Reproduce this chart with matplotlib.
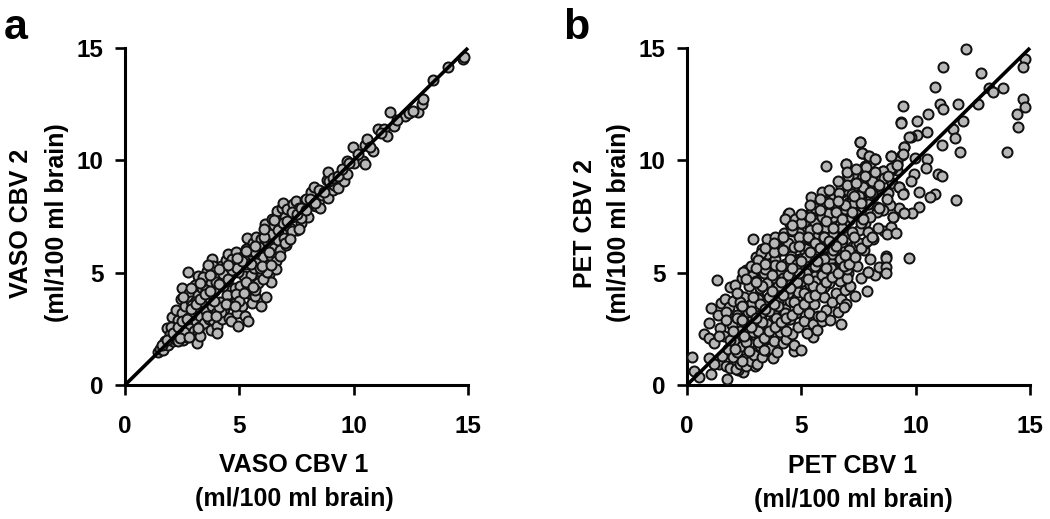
import matplotlib
matplotlib.use("Agg")
import matplotlib.pyplot as plt

plt.rcParams['font.family'] = ['Liberation Sans', 'DejaVu Sans']
plt.rcParams['font.weight'] = 'bold'

ticks = [0, 5, 10, 15]

# valores, painel a
vaso1 = [1.43,1.55,1.68,1.75,1.82,1.90,1.95,2.04,2.08,2.15,
         2.2,2.25,2.3,2.35,2.42,2.45,2.48,2.5,2.55,2.6,
         2.62,2.68,2.77,2.75,2.8,2.85,2.9,2.95,3.0,3.05,
         3.13,3.1,3.15,3.2,3.21,3.25,3.3,3.35,3.4,3.45,
         3.5,3.55,3.6,3.62,3.68,3.75,3.75,3.8,3.82,3.85,
         3.9,3.95,4.0,4.04,4.04,4.1,4.15,4.2,4.25,4.3,
         4.35,4.4,4.45,4.52,4.55,4.6,4.65,4.7,4.75,4.8,
         4.85,4.9,4.96,5.0,5.05,5.1,5.15,5.2,5.25,5.3,
         5.35,5.39,5.4,5.45,5.5,5.55,5.6,5.65,5.7,5.75,
         5.8,5.85,5.95,5.95,6.0,6.05,6.12,6.15,6.2,6.31,
         6.38,6.4,6.45,6.5,6.55,6.6,6.65,6.7,6.75,6.8,
         6.85,6.9,6.95,7.0,7.05,7.1,7.2,7.29,7.36,7.48,
         7.5,7.6,7.7,7.8,7.85,7.92,8.0,8.12,8.2,8.28,
         8.35,8.5,8.53,8.6,8.82,8.86,8.89,9.08,9.14,9.3,
         9.58,9.69,9.69,9.96,10.0,10.39,10.5,10.5,10.6,10.86,
         11.05,11.33,11.44,11.59,11.78,12.25,12.43,12.8,12.97,13.02,
         13.46,14.14,14.76,14.84,
         2.0,2.3,2.55,2.7,2.9,3.05,3.2,3.4,3.55,3.7,
         3.85,4.0,4.2,4.35,4.5,4.65,4.85,5.0,5.2,5.35,
         5.5,5.7,5.85,6.05,6.25,6.4,6.6,7.0,7.3,7.7,
         2.6,2.95,3.3,3.65,4.1,4.45,4.95,5.3,5.75,6.2,
         1.6,1.85,2.1,2.3,2.5,2.7,2.9,3.1,3.3,3.5,
         3.7,3.9,4.1,4.3,4.5,4.7,4.9,5.1,5.3,5.5,
         5.7,5.9,6.1,6.3,6.5,6.7,6.9,7.1,7.3,7.5,
         7.7,7.9,8.1,8.3,8.5,8.7,8.9,9.1,9.3,9.5,
         9.8,10.2,10.7,11.2,11.9,12.6,2.4,2.8,3.2,3.6,
         4.0,4.4,4.8,5.2,5.6,6.0,6.4,6.8,7.2,7.6,
         2.9,3.3,3.7,4.1,4.5,4.9,5.3,5.7,6.1,6.5]
vaso2 = [1.48,1.62,1.55,1.95,2.52,1.78,2.25,3.04,1.95,2.62,
         2.05,3.35,2.9,2.2,2.45,3.81,4.30,3.2,2.0,2.75,
         3.5,2.25,5.04,3.0,4.1,2.55,3.75,3.2,2.4,4.45,
         1.88,2.85,3.45,4.0,4.85,2.6,3.05,4.3,3.7,2.75,
         4.75,3.3,5.09,4.0,2.95,2.45,4.55,3.5,5.59,2.9,
         4.2,5.0,3.2,2.63,2.30,4.75,3.7,5.3,2.95,4.4,
         3.4,5.55,4.0,5.83,3.0,4.9,2.85,5.6,3.65,4.3,
         5.9,3.2,2.63,5.25,4.4,3.5,5.75,4.85,3.05,5.4,
         6.53,2.86,4.1,5.75,4.9,3.65,6.3,5.2,3.95,6.6,
         4.55,5.6,3.52,6.5,4.95,5.7,7.17,3.93,6.35,4.94,
         4.60,5.75,7.4,6.1,6.95,5.5,7.75,6.45,7.2,6.0,
         7.86,8.08,6.55,7.5,6.25,7.85,7.0,7.49,8.06,8.2,
         6.9,7.9,7.2,7.72,8.25,8.26,7.5,8.6,8.0,8.8,
         7.95,8.23,7.86,8.45,9.12,8.34,9.5,8.68,8.9,8.75,
         9.09,9.98,9.39,10.58,9.87,9.97,10.68,9.84,10.93,10.43,
         11.38,11.38,11.08,12.17,11.54,11.97,12.09,12.14,12.51,12.72,
         13.58,14.14,14.5,14.58,
         2.6,1.95,3.9,2.15,3.1,3.7,2.35,4.8,4.25,3.85,
         5.3,4.6,3.25,5.0,3.6,5.15,4.05,3.75,5.55,4.5,
         5.95,4.25,6.15,4.7,5.35,6.7,5.15,6.3,6.85,7.45,
         2.35,3.55,2.2,5.35,3.45,4.65,5.05,6.05,5.45,5.05,
         1.8,2.0,2.3,2.6,2.85,2.95,3.4,3.6,3.85,4.05,
         4.2,3.75,4.5,4.95,4.7,5.1,5.2,5.5,4.6,5.4,
         5.9,5.2,6.6,5.9,7.1,6.9,7.2,7.3,7.7,7.6,
         7.9,7.8,8.3,8.1,8.7,8.6,9.1,9.2,9.3,9.6,
         9.9,10.3,10.6,11.2,11.8,12.2,2.1,2.15,2.55,3.05,
         3.05,3.6,3.5,4.1,4.35,5.3,5.35,5.75,6.5,6.95,
         4.3,4.55,4.9,5.15,5.35,5.65,5.95,6.2,6.95,7.35]

# valores, painel b
pet1 = [12.2,11.21,12.84,14.79,14.69,10.84,13.83,13.19,13.37,9.43,
        11.06,11.21,11.85,12.71,14.69,14.78,14.42,14.49,13.99,10.55,
        10.07,9.36,12.07,11.65,10.51,10.07,9.78,11.72,11.14,9.5,
        7.56,7.64,9.42,8.92,11.92,7.93,8.22,9.97,10.51,6.94,
        8.0,9.2,10.44,7.78,9.17,8.59,7.24,7.05,7.93,8.08,
        9.93,10.99,11.16,9.78,8.95,7.27,7.64,8.29,9.29,9.46,
        10.15,10.85,10.63,11.76,8.81,8.15,7.64,7.24,10.15,9.29,
        8.86,7.1,7.93,8.29,7.64,9.5,9.86,9.02,8.59,8.0,
        7.3,6.99,
        0.2,0.31,0.54,1.03,1.76,0.98,0.74,0.98,0.98,1.03,
        1.33,2.87,4.43,6.72,7.93,5.52,4.68,3.75,2.46,2.24,2.97,
        1.2,1.35,1.4,1.45,1.5,1.55,1.6,1.65,1.7,1.75,
        1.8,1.85,1.9,1.9,1.95,2.0,2.0,2.05,2.1,2.15,
        2.2,2.2,2.25,2.3,2.3,2.35,2.4,2.4,2.45,2.5,
        2.5,2.55,2.6,2.6,2.65,2.7,2.7,2.75,2.8,2.8,
        2.85,2.9,2.9,2.95,3.0,3.0,3.05,3.1,3.1,3.15,
        3.2,3.2,3.25,3.3,3.3,3.35,3.4,3.4,3.45,3.5,
        3.5,3.55,3.6,3.6,3.65,3.7,3.7,3.75,3.8,3.8,
        3.85,3.9,3.9,3.95,4.0,4.0,4.05,4.1,4.1,4.15,
        4.2,4.2,4.25,4.3,4.3,4.35,4.4,4.4,4.45,4.5,
        4.5,4.55,4.6,4.6,4.65,4.7,4.7,4.75,4.8,4.8,
        4.85,4.9,4.9,4.95,5.0,5.0,5.05,5.1,5.1,5.15,
        5.2,5.2,5.25,5.3,5.3,5.35,5.4,5.4,5.45,5.5,
        5.5,5.55,5.6,5.6,5.65,5.7,5.7,5.75,5.8,5.8,
        5.85,5.9,5.9,5.95,6.0,6.0,6.05,6.1,6.1,6.15,
        6.2,6.2,6.25,6.3,6.3,6.35,6.4,6.4,6.45,6.5,
        6.5,6.55,6.6,6.6,6.65,6.7,6.7,6.75,6.8,6.8,
        6.85,6.9,6.9,6.95,7.0,7.0,7.05,7.1,7.15,7.2,
        7.25,7.3,7.35,7.4,7.45,7.5,7.55,7.6,7.7,7.75,
        7.8,7.85,7.9,8.0,8.05,8.15,8.2,8.3,8.35,8.4,
        8.5,8.6,8.7,8.75,8.9,8.95,7.0,7.4,8.1,7.7,
        6.3,8.2,6.0,8.8,5.9,6.9,7.6,5.3,8.9,5.0,
        8.3,5.6,6.4,6.6,7.3,5.4,8.0,7.0,9.2,4.9,
        2.35,2.85,3.35,3.85,4.35,4.85,5.35,5.85,6.35,6.85,
        6.9,4.2,4.9,6.4,3.1,1.2,1.7,2.4,3.0,1.4,
        4.6,2.7,3.9,3.3,5.4,3.4,6.2,4.5,2.9,6.8,
        2.3,6.4,4.0,6.0,5.1,3.8,7.2,7.8,5.2,7.5,
        6.08,6.95,7.58,7.65,7.96,8.22,7.83,8.56,7.24,7.05,
        6.72,6.65,5.89,5.42,5.6,4.47,4.3,4.72,3.51,3.85,
        3.24,3.12,2.46,8.69,8.7,8.7,7.93,9.71,8.73,9.14,
        9.49,9.36,9.72,9.49,9.43,8.94,9.2,9.29,9.43,8.99,
        2.1,2.4,2.6,2.9,3.1,3.3,3.5,3.7,3.9,4.1,
        4.3,4.5,4.7,4.9,5.1,5.3,5.5,5.7,5.9,6.1,
        6.3,6.5,6.7,6.9,7.1,7.3,7.5,7.7,7.9,8.1,
        1.7,1.9,2.2,2.5,2.8,3.0,3.2,3.4,3.6,3.8,
        4.0,4.2,4.4,4.6,4.8,5.0,5.2,5.4,5.6,5.8,
        6.0,6.2,6.4,6.6,6.8,7.0,7.2,7.4,7.6,7.8,
        8.0,8.2,8.4,8.6,3.1,3.35,3.6,3.85,4.1,4.35,
        4.6,4.85,5.1,5.35,5.6,5.85,6.1,6.35,6.6,6.85,
        7.1,7.35,7.6,7.85,8.1,8.35,2.2,2.6,3.0,3.4,
        3.8,4.2,4.6,5.0,5.4,5.8,6.2,6.6,7.0,7.4,
        2.0,2.4,2.8,3.2,3.6,4.0,4.4,4.8,5.2,5.6,
        6.0,6.4,6.8,7.2,7.6,8.0,8.4,8.8,3.3,3.7,
        4.1,4.5,4.9,5.3,5.7,6.1,6.5,6.9,7.3,7.7,
        2.7,3.0,3.4,3.8,4.2,4.6,5.0,5.4,5.8,6.2]
pet2 = [14.96,14.15,13.87,14.51,14.15,13.28,13.2,13.2,13.06,12.42,
        12.51,12.27,12.51,12.51,12.72,12.36,12.06,11.48,10.39,12.06,
        11.77,11.69,11.77,11.41,11.26,11.11,11.05,10.98,10.68,10.61,
        10.83,10.31,10.24,10.19,10.39,10.19,10.04,10.12,10.04,9.82,
        9.87,9.82,9.67,9.75,9.57,9.53,9.39,9.32,9.39,9.23,
        9.39,9.39,9.32,9.09,8.98,9.0,8.95,8.87,8.8,8.53,
        8.58,8.52,8.35,8.22,8.53,8.43,8.53,8.71,7.94,7.86,
        8.01,8.13,8.2,7.91,8.16,7.64,7.64,7.49,7.79,7.64,
        7.72,7.86,
        1.26,0.62,0.37,0.47,0.25,1.19,2.27,2.77,2.08,3.44,
        4.67,6.48,7.61,2.72,5.04,2.15,1.53,1.19,0.59,0.67,0.86,
        1.85,3.1,0.95,2.55,3.65,1.3,2.2,3.85,0.85,2.9,
        1.6,3.45,4.35,0.75,2.65,1.25,3.75,1.95,4.45,0.7,
        3.1,1.45,4.05,2.4,0.95,3.55,1.75,4.75,2.85,1.15,
        3.9,2.15,5.1,0.85,3.25,1.55,4.4,2.65,5.3,1.05,
        3.65,2.0,4.85,1.35,5.7,2.95,0.95,3.95,2.35,5.45,
        1.75,4.3,3.1,6.05,1.25,5.0,2.55,3.6,1.55,5.85,
        4.55,2.1,6.3,3.35,1.65,5.2,2.8,6.45,4.0,1.95,
        5.6,3.1,4.7,1.45,6.1,3.7,2.35,6.55,5.05,2.65,
        4.25,1.85,6.75,3.4,5.4,2.05,6.3,4.6,2.95,7.15,
        3.75,5.75,2.25,6.85,4.95,1.8,6.15,3.2,7.3,4.3,
        2.6,5.6,7.4,3.55,6.5,1.55,4.65,7.05,2.85,5.9,
        3.95,6.85,2.3,7.55,5.15,3.2,6.25,4.45,7.7,2.7,
        5.65,3.6,7.2,4.85,6.6,2.45,7.9,3.05,5.4,6.95,
        4.15,7.5,2.85,6.1,3.9,8.1,5.0,7.0,3.35,6.4,
        4.55,8.2,2.9,5.8,7.45,3.7,6.7,5.2,8.35,4.1,
        6.05,7.75,3.25,5.35,8.5,4.65,7.15,3.85,6.35,8.6,
        5.55,4.25,7.85,3.6,6.75,8.7,5.0,7.35,4.4,8.2,
        6.2,8.85,3.95,7.6,5.3,6.9,8.45,4.75,9.05,6.0,
        7.2,4.2,8.05,5.6,9.15,6.5,4.9,7.7,8.75,5.25,
        9.3,6.85,5.75,8.3,7.05,9.6,4.75,6.25,8.55,7.4,
        5.45,8.85,6.6,9.4,5.0,7.85,8.25,6.1,9.65,5.6,
        8.85,4.65,7.5,5.3,8.1,6.45,9.1,5.15,9.95,6.75,
        2.95,4.85,1.55,5.35,2.4,4.15,6.55,3.05,5.85,3.45,
        7.1,4.75,6.6,5.2,3.85,0.95,3.25,1.05,4.65,2.2,
        5.55,1.85,3.45,2.8,6.9,5.15,7.65,2.95,2.35,7.0,
        3.7,8.0,5.95,4.35,7.25,3.15,8.5,6.3,4.05,8.4,
        9.75,9.84,10.83,10.31,10.19,10.04,9.72,9.54,9.39,9.3,
        8.83,8.56,8.6,8.35,7.86,7.64,7.37,7.37,6.48,6.57,
        5.86,5.56,5.04,5.64,5.27,4.97,5.01,5.64,6.71,6.78,
        7.64,11.68,11.05,10.61,10.27,10.19,9.79,8.83,8.5,7.49,
        1.6,3.5,1.9,3.9,2.4,4.4,2.7,4.9,3.0,5.3,
        3.2,5.6,3.7,6.2,4.1,6.6,4.4,7.0,4.9,7.3,
        5.2,7.7,5.6,8.0,6.0,8.4,6.3,8.8,6.8,9.1,
        2.9,2.0,3.0,2.2,3.3,4.6,3.6,5.4,3.9,5.9,
        3.5,6.0,4.1,6.9,4.6,7.2,5.0,7.5,5.3,7.8,
        5.6,8.1,6.0,8.2,6.5,8.9,6.8,9.0,7.2,9.3,
        7.5,9.5,7.9,9.2,1.9,2.1,2.4,2.6,2.8,3.0,
        3.1,3.4,3.6,3.9,4.0,4.3,4.6,4.8,5.0,5.3,
        5.4,5.7,6.1,6.4,6.6,7.0,4.1,4.7,5.2,6.1,
        6.3,6.6,7.1,7.6,8.0,8.3,8.7,9.1,9.5,9.6,
        2.4,2.9,2.6,3.1,3.3,4.4,4.9,5.4,5.7,6.3,
        6.6,7.0,7.4,7.7,8.1,8.6,8.9,9.3,2.8,4.2,
        4.6,4.3,5.0,4.7,5.5,5.2,6.2,5.8,6.6,7.4,
        1.5,3.0,3.4,3.6,4.0,5.2,5.5,5.9,6.1,6.4]

def painel(fig, esq, xs, ys, xlab, ylab1, ylab2, letra, xletra, xlab_cx, xlab_y1, xlab_y2, ylab_x1):
    W, H = 1050.0, 519.0
    ax = fig.add_axes([esq / W, (H - 385) / H, 343 / W, 337 / H])
    ax.plot([0, 15], [0, 15], color='black', lw=2.6, zorder=4, solid_capstyle='butt', clip_on=False)
    ax.scatter(xs, ys, s=52, facecolor='#b7b7b7', edgecolor='#111111', linewidth=1.45, zorder=3, clip_on=False)
    ax.set_xlim(0, 15)
    ax.set_ylim(0, 15)
    ax.set_xticks(ticks)
    ax.set_yticks(ticks)
    ax.spines['top'].set_visible(False)
    ax.spines['right'].set_visible(False)
    ax.spines['left'].set_linewidth(2.2)
    ax.spines['bottom'].set_linewidth(2.2)
    ax.tick_params(direction='out', length=7.5, width=1.9, labelsize=17.5)
    ax.tick_params(axis='x', pad=14)
    ax.tick_params(axis='y', pad=8)
    fig.text(xlab_cx / W, 1 - xlab_y1 / H, xlab, ha='center', va='center', fontsize=18)
    fig.text(xlab_cx / W, 1 - xlab_y2 / H, "(ml/100 ml brain)", ha='center', va='center', fontsize=18)
    fig.text(ylab_x1 / W, 1 - 223 / H, ylab1, rotation=90, ha='center', va='center', fontsize=18)
    fig.text((esq - 68) / W, 1 - 223 / H, ylab2, rotation=90, ha='center', va='center', fontsize=18)
    fig.text(xletra / W, 1 - 28 / H, letra, ha='center', va='center', fontsize=31)
    return ax

fig = plt.figure(figsize=(10.5, 5.19), dpi=100)
painel(fig, 125, vaso1, vaso2, "VASO CBV 1", "VASO CBV 2", "(ml/100 ml brain)", "a", 16, 294, 465, 499, 21)
painel(fig, 687, pet1, pet2, "PET CBV 1", "PET CBV 2", "(ml/100 ml brain)", "b", 576, 853, 466, 500, 585)
fig.savefig("out.png", dpi=100)
